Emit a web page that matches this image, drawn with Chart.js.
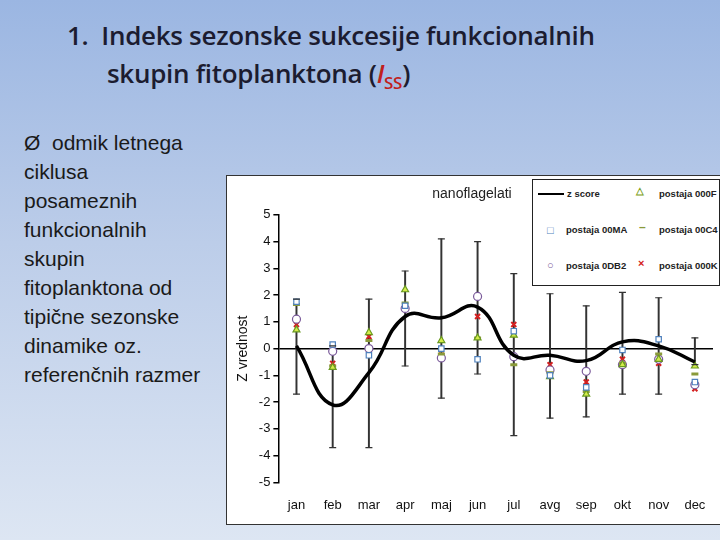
<!DOCTYPE html>
<html>
<head>
<meta charset="utf-8">
<script src="https://cdn.jsdelivr.net/npm/chart.js"></script>
<style>
body{margin:0;width:720px;height:540px;overflow:hidden;font-family:"Liberation Sans",Arial,sans-serif;
 background:linear-gradient(180deg,#9bb6e2 0%,#bccde9 45%,#dde6f3 100%);position:relative}
#title{position:absolute;left:67px;top:16px;font-family:"Open Sans",sans-serif;font-weight:600;font-size:26px;line-height:38px;color:#1c1c30;white-space:nowrap;letter-spacing:-0.3px}
#title .ind{padding-left:40px}
#title .r{color:#c0201c}
#bullet{position:absolute;left:24px;top:128px;font-size:21px;line-height:29px;color:#1a1a1a}
#box{position:absolute;left:226px;top:175px;width:494px;height:348px;background:#fff;border:1px solid #333;border-right:none;z-index:2}
#legend{position:absolute;left:305px;top:3px;width:186px;height:105px;border:1px solid #222;background:#fff;font-size:9.5px;font-weight:bold;color:#222}
#legend div{position:absolute}
</style>
</head>
<body>
<div id="title">1.&nbsp; Indeks sezonske sukcesije funkcionalnih<br><span class="ind">skupin fitoplanktona (<span class="r"><i>I</i><sub style="font-size:17px">SS</sub></span>)</span></div>
<div id="bullet">Ø&nbsp; odmik letnega<br>ciklusa<br>posameznih<br>funkcionalnih<br>skupin<br>fitoplanktona od<br>tipične sezonske<br>dinamike oz.<br>referenčnih razmer</div>
<div id="box">
<canvas id="c" width="494" height="348"></canvas>
<div id="legend">
 <div style="left:5px;top:13px;width:26px;border-top:2px solid #000"></div><div style="left:34px;top:8px">z score</div>
 <div style="left:103px;top:5px;color:#7aa020">△</div><div style="left:126px;top:8px">postaja 000F</div>
 <div style="left:14px;top:44px;color:#4f81bd;font-size:11px">□</div><div style="left:33px;top:44px">postaja 00MA</div>
 <div style="left:106px;top:40px;color:#8a9a3a;font-size:12px">–</div><div style="left:126px;top:44px">postaja 00C4</div>
 <div style="left:14px;top:79px;color:#7a5a9a;font-size:11px">○</div><div style="left:33px;top:80px">postaja 0DB2</div>
 <div style="left:105px;top:77px;color:#d42020;font-size:11px">×</div><div style="left:126px;top:80px">postaja 000K</div>
</div>
</div>
<script>
const months = ["jan","feb","mar","apr","maj","jun","jul","avg","sep","okt","nov","dec"];
const zscore = [0.1,-2.1,-0.9,1.2,1.15,1.55,-0.25,-0.25,-0.45,0.25,0.1,-0.5];
const errLow = [-1.7,-3.7,-3.7,-0.65,-1.85,-0.95,-3.25,-2.6,-2.55,-1.7,-1.7,-0.6];
const errHigh = [1.85,0.1,1.85,2.9,4.1,4.0,2.8,2.05,1.6,2.1,1.9,0.4];
const st00MA = [1.75,0.15,-0.25,1.6,0,-0.4,0.65,-1.0,-1.45,-0.05,0.35,-1.25];
const st000F = [0.7,-0.7,0.6,2.2,0.3,0.4,0.5,-1.05,-1.7,-0.6,-0.4,-0.65];
const st00C4 = [1.65,-0.65,0.3,1.7,-0.2,0.4,-0.6,-0.9,-1.6,-0.55,-0.2,-0.95];
const st0DB2 = [1.1,-0.1,0.0,1.5,-0.35,1.95,-0.3,-0.8,-0.85,-0.6,-0.4,-1.35];
const st000K = [0.9,-0.55,0.45,1.6,-0.25,1.2,0.9,-0.6,-1.25,-0.4,-0.55,-1.5];

function pts(style,color,fill,r){
  return {type:"line",showLine:false,pointStyle:style,pointRadius:r,borderColor:color,
    pointBackgroundColor:fill,pointBorderWidth:1.2,order:1};
}
const datasets = [
  {type:"line",data:zscore,borderColor:"#000",borderWidth:3.5,tension:0.45,pointRadius:0,fill:false,order:0},
  {type:"bar",data:errLow.map((v,i)=>[v,errHigh[i]]),backgroundColor:"#333",barThickness:1.3,order:3},
  Object.assign(pts("line","#333","#333",3.5),{data:errLow}),
  Object.assign(pts("line","#333","#333",3.5),{data:errHigh}),
  Object.assign(pts("rect","#4f81bd","#fff",3.8),{data:st00MA}),
  Object.assign(pts("triangle","#6a9a20","#d4ec4a",4),{data:st000F}),
  Object.assign(pts("line","#8a9a3a","#8a9a3a",3.5),{data:st00C4,pointBorderWidth:3}),
  Object.assign(pts("circle","#7a5a9a","#fff",4),{data:st0DB2}),
  Object.assign(pts("crossRot","#d42020","#d42020",3.5),{data:st000K,pointBorderWidth:2}),
];
new Chart(document.getElementById("c"),{
  data:{labels:months,datasets:datasets},
  options:{responsive:false,animation:false,
    layout:{padding:{top:10,right:8,left:4,bottom:4}},
    plugins:{legend:{display:false},tooltip:{enabled:false},
      title:{display:true,text:"nanoflagelati",color:"#222",font:{family:"Liberation Sans",size:14,weight:"normal"},padding:{top:0,bottom:12},align:"center"}},
    scales:{
      x:{grid:{display:false},border:{display:false},
        ticks:{color:"#111",font:{family:"Liberation Sans",size:13},padding:7}},
      y:{min:-5,max:5,
        ticks:{stepSize:1,color:"#111",font:{family:"Liberation Sans",size:13}},
        grid:{drawOnChartArea:true,color:c=>c.tick.value===0?"#000":"transparent",lineWidth:1.5,tickColor:"#000",tickLength:5},
        border:{color:"#000",width:1.5},
        title:{display:true,text:"Z vrednost",color:"#111",font:{family:"Liberation Sans",size:14}}}
    }}
});
</script>
</body>
</html>
